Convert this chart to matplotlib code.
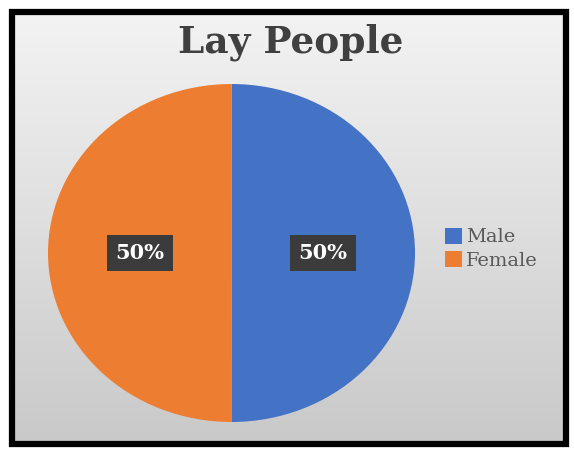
import numpy as np
import matplotlib.pyplot as plt
from matplotlib.patches import Rectangle
from matplotlib.colors import LinearSegmentedColormap

# ==========================================================
# DATA
# ==========================================================

labels = ["Male", "Female"]
shares = [50, 50]
colors = ["#4472C4", "#ED7D31"]
title = "Lay People"

W, H = 574, 449
serif = "DejaVu Serif"

fig = plt.figure(figsize=(W / 100, H / 100), dpi=100)
fig.patch.set_facecolor("white")

# ==========================================================
# BACKGROUND GRADIENT + FRAME
# ==========================================================

bg = fig.add_axes([12 / W, 1 - 444 / H, 554 / W, 432 / H])
grad = np.linspace(0, 1, 256).reshape(-1, 1)
bg.imshow(
    grad,
    aspect="auto",
    cmap=LinearSegmentedColormap.from_list("bg", ["#f3f3f3", "#c9c9c9"]),
    extent=[0, 1, 0, 1],
    origin="upper"
)
bg.set_axis_off()

fig.patches.append(
    Rectangle(
        (12 / W, 1 - 444 / H),
        554 / W,
        432 / H,
        transform=fig.transFigure,
        fill=False,
        edgecolor="black",
        linewidth=4.5,
        zorder=10
    )
)

# ==========================================================
# PIE
# ==========================================================

ax = fig.add_axes([48 / W, 1 - 422 / H, 367 / W, 338 / H])

wedges, texts, autotexts = ax.pie(
    shares,
    colors=colors,
    startangle=90,
    counterclock=False,
    autopct="%d%%",
    pctdistance=0.5,
    radius=1,
    textprops=dict(
        color="white",
        family=serif,
        fontweight="bold",
        fontsize=15
    ),
    wedgeprops=dict(linewidth=0)
)

for t in autotexts:
    t.set_bbox(
        dict(
            boxstyle="square,pad=0.4",
            facecolor="#3b3b3b",
            edgecolor="none"
        )
    )

ax.set_aspect("auto")
ax.set_xlim(-1, 1)
ax.set_ylim(-1, 1)

# ==========================================================
# TITLE + LEGEND
# ==========================================================

fig.text(
    291 / W,
    1 - 42 / H,
    title,
    ha="center",
    va="center",
    family=serif,
    fontweight="bold",
    fontsize=27,
    color="#404040"
)

fig.legend(
    wedges,
    labels,
    loc="upper left",
    bbox_to_anchor=(445 / W, 1 - 228 / H),
    frameon=False,
    prop=dict(family=serif, size=14),
    labelcolor="#595959",
    handlelength=0.85,
    handleheight=0.85,
    handletextpad=0.25,
    labelspacing=0.25,
    borderpad=0,
    borderaxespad=0
)

plt.savefig("out.png", dpi=100)
